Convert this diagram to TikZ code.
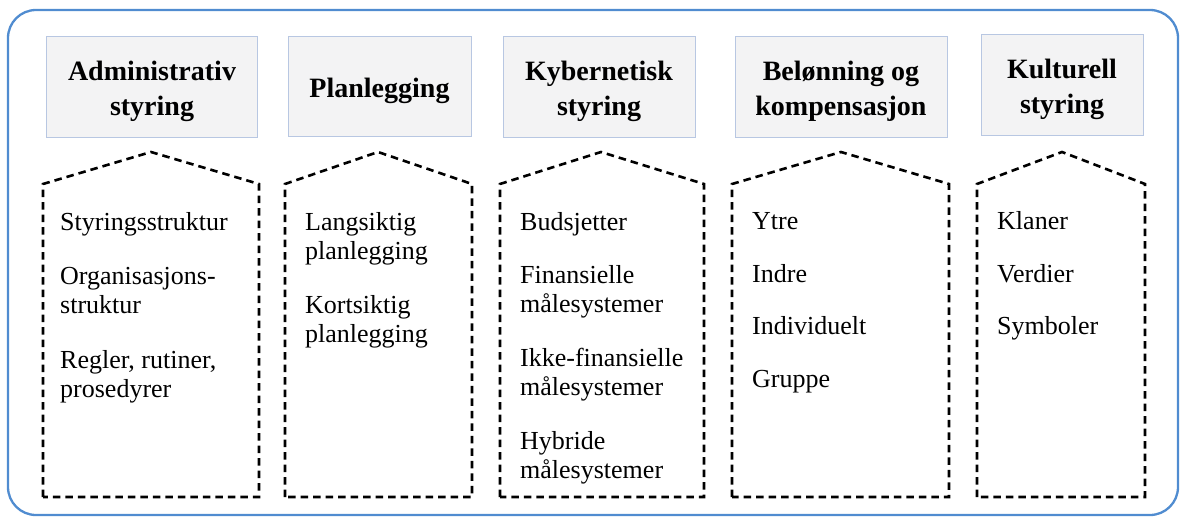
\documentclass[tikz,border=0pt]{standalone}
\usepackage{fontspec}
\setmainfont{Liberation Serif}
\definecolor{framecol}{RGB}{80,140,208}
\definecolor{headline}{RGB}{184,199,226}
\definecolor{headfill}{RGB}{243,243,244}
\begin{document}
\begin{tikzpicture}[x=1pt,y=-1pt,
  frame/.style={draw=framecol, line width=2.3pt, rounded corners=28pt},
  headbox/.style={draw=headline, fill=headfill, line width=1pt, inner sep=0pt},
  headtext/.style={inner sep=0pt, font=\fontsize{28}{35}\selectfont\bfseries, align=center},
  house/.style={draw=black, line width=2.6pt, dash pattern=on 7.5pt off 5pt, line join=miter},
  item/.style={anchor=base west, inner sep=0pt, font=\fontsize{26}{30}\selectfont}]

% canvas and outer frame
\useasboundingbox (0,0) rectangle (1184,519);
\draw[frame] (8,10) rectangle (1178,515);

% column headings
\node[headbox, minimum width=211pt, minimum height=100pt] (h1) at (152,87) {};
\node[headbox, minimum width=183pt, minimum height=99pt] (h2) at (379.5,86.5) {};
\node[headbox, minimum width=192pt, minimum height=100pt] (h3) at (599,87) {};
\node[headbox, minimum width=212pt, minimum height=100pt] (h4) at (841,87) {};
\node[headbox, minimum width=162pt, minimum height=100pt] (h5) at (1062,85) {};
\node[headtext] (h1t) at ([yshift=-4pt]h1.center) {Administrativ\\styring};
\node[headtext] (h2t) at ([yshift=-4pt]h2.center) {Planlegging};
\node[headtext] (h3t) at ([yshift=-4pt]h3.center) {Kybernetisk\\styring};
\node[headtext] (h4t) at ([yshift=-4pt]h4.center) {Belønning og\\kompensasjon};
\node[headtext] (h5t) at ([yshift=-4pt]h5.center) {Kulturell\\styring};

% dashed house outlines
\draw[house] (43,497) -- (43,184) -- (151,152) -- (259,184) -- (259,497) -- cycle;
\draw[house] (285,497) -- (285,184) -- (378,152) -- (472,184) -- (472,497) -- cycle;
\draw[house] (500,497) -- (500,184) -- (601,152) -- (704,184) -- (704,497) -- cycle;
\draw[house] (732,497) -- (732,184) -- (841,152) -- (949,184) -- (949,497) -- cycle;
\draw[house] (977,497) -- (977,184) -- (1062,152) -- (1145,184) -- (1145,497) -- cycle;

% column 1
\node[item] (c1a)  at (60,230) {Styringsstruktur};
\node[item] (c1b1) at (60,284) {Organisasjons-};
\node[item] (c1b2) at (60,313) {struktur};
\node[item] (c1c1) at (60,368) {Regler, rutiner,};
\node[item] (c1c2) at (60,397) {prosedyrer};

% column 2
\node[item] (c2a1) at (305,230) {Langsiktig};
\node[item] (c2a2) at (305,259) {planlegging};
\node[item] (c2b1) at (305,313) {Kortsiktig};
\node[item] (c2b2) at (305,342) {planlegging};

% column 3
\node[item] (c3a)  at (520,230) {Budsjetter};
\node[item] (c3b1) at (520,283) {Finansielle};
\node[item] (c3b2) at (520,312) {målesystemer};
\node[item] (c3c1) at (520,366) {Ikke-finansielle};
\node[item] (c3c2) at (520,395) {målesystemer};
\node[item] (c3d1) at (520,449) {Hybride};
\node[item] (c3d2) at (520,478) {målesystemer};

% column 4
\node[item] (c4a) at (752,229) {Ytre};
\node[item] (c4b) at (752,282) {Indre};
\node[item] (c4c) at (752,334) {Individuelt};
\node[item] (c4d) at (752,387) {Gruppe};

% column 5
\node[item] (c5a) at (997,229) {Klaner};
\node[item] (c5b) at (997,282) {Verdier};
\node[item] (c5c) at (997,334) {Symboler};
\end{tikzpicture}
\end{document}
